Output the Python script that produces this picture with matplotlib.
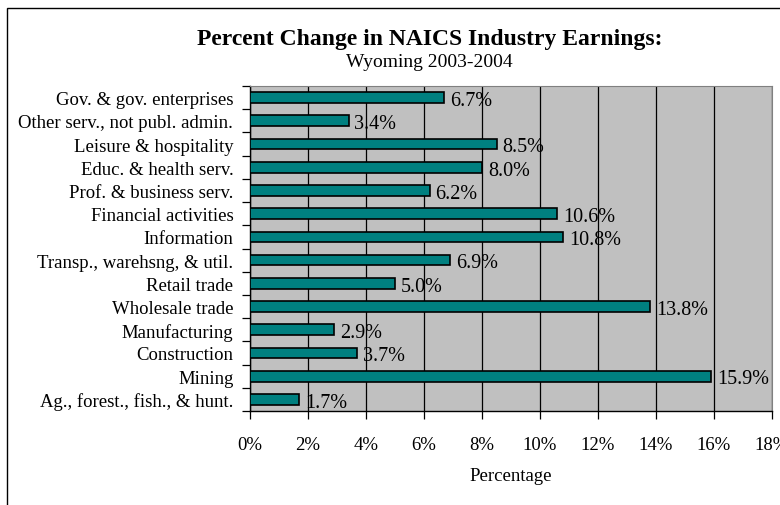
import matplotlib
matplotlib.use("Agg")
import matplotlib.pyplot as plt
from matplotlib.patches import Rectangle

# Industries listed bottom to top, as they appear on the chart
industries = [
    "Ag., forest., fish., & hunt.",
    "Mining",
    "Construction",
    "Manufacturing",
    "Wholesale trade",
    "Retail trade",
    "Transp., warehsng, & util.",
    "Information",
    "Financial activities",
    "Prof. & business serv.",
    "Educ. & health serv.",
    "Leisure & hospitality",
    "Other serv., not publ. admin.",
    "Gov. & gov. enterprises",
]
pct_change = [1.7, 15.9, 3.7, 2.9, 13.8, 5.0, 6.9, 10.8, 10.6, 6.2, 8.0, 8.5, 3.4, 6.7]
xticks = list(range(0, 20, 2))

plt.rcParams["font.family"] = ["Liberation Serif", "DejaVu Serif"]

fig = plt.figure(figsize=(7.8, 5.06), dpi=100)
ax = fig.add_axes([250 / 780, 1 - 412 / 506, 522 / 780, 325 / 506])

# Outer chart border (only top and left edges are visible in the crop)
fig.patches.append(Rectangle((7 / 780, -0.1), 1.2, 1 - 9 / 506 + 0.1,
                             transform=fig.transFigure, fill=False,
                             edgecolor="black", linewidth=1.0))

ax.set_facecolor("#c0c0c0")
pos = list(range(len(industries)))
ax.barh(pos, pct_change, height=0.46, color="#008080", edgecolor="black",
        linewidth=1.2, zorder=3)

for y, v in zip(pos, pct_change):
    ax.text(v + 0.2, y - 0.12, f"{v:.1f}%", va="center", ha="left",
            fontsize=14.5, zorder=4)

ax.set_xlim(0, 18)
ax.set_ylim(-0.5, len(industries) - 0.5)
ax.set_xticks(xticks)
ax.set_xticklabels([f"{t}%" for t in xticks], fontsize=13.5)
ax.xaxis.grid(True, color="black", linewidth=0.9, zorder=1)
ax.set_axisbelow(True)

# Category labels centred on bars, tick marks at category boundaries
ax.set_yticks(pos)
ax.set_yticklabels(industries, fontsize=13.5)
ax.tick_params(axis="y", which="major", length=0, pad=12)
ax.set_yticks([p - 0.5 for p in pos] + [len(pos) - 0.5], minor=True)
ax.tick_params(axis="y", which="minor", length=6, width=0.9, direction="out")
ax.tick_params(axis="x", length=6, width=0.9, direction="out", pad=12)

for side in ["left", "bottom"]:
    ax.spines[side].set_linewidth(1.0)
for side in ["top", "right"]:
    ax.spines[side].set_color("#808080")
    ax.spines[side].set_linewidth(0.8)

ax.set_xlabel("Percentage", fontsize=13.5, labelpad=10)

fig.text(430 / 780, 1 - 40 / 506, "Percent Change in NAICS Industry Earnings:",
         ha="center", va="center", fontsize=17, fontweight="bold")
fig.text(429 / 780, 1 - 63 / 506, "Wyoming 2003-2004", ha="center",
         va="center", fontsize=14)

fig.savefig("out.png", dpi=100)
